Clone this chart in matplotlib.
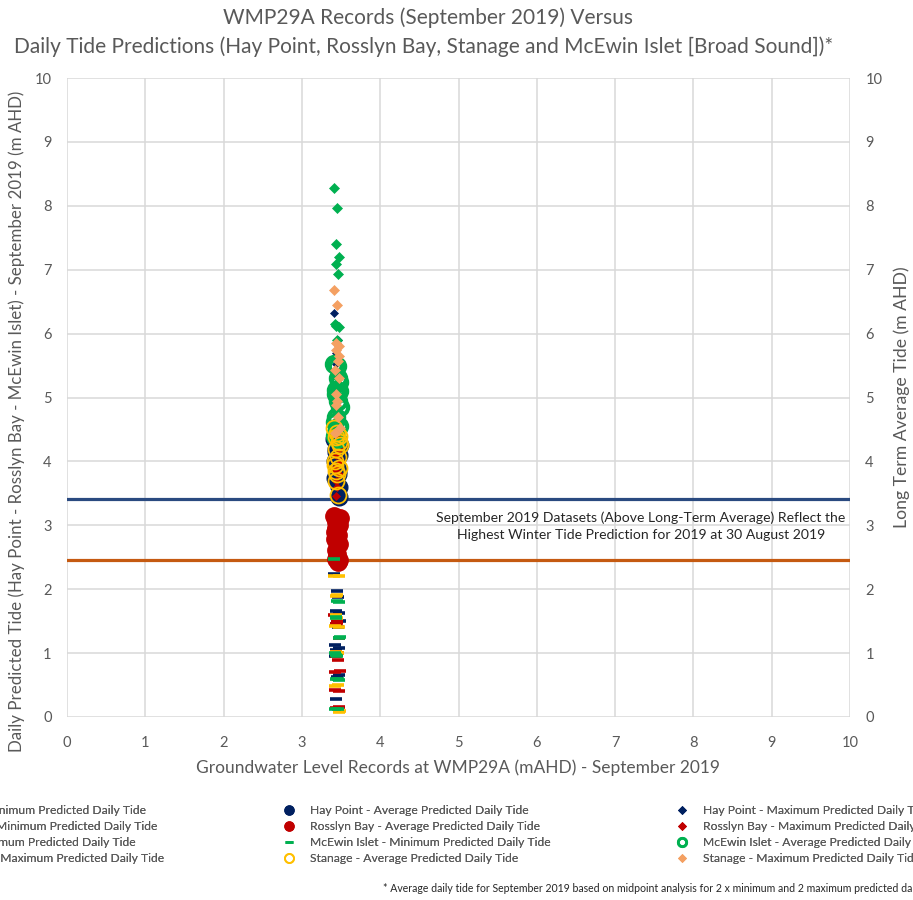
import matplotlib
matplotlib.use("Agg")
import matplotlib.pyplot as plt
from matplotlib.lines import Line2D

plt.rcParams['font.family'] = ['Lato', 'DejaVu Sans']

# Groundwater level readings at WMP29A (mAHD), September 2019
groundwater = [3.41, 3.45, 3.44, 3.47, 3.43, 3.46, 3.42, 3.48,
               3.44, 3.45, 3.43, 3.46, 3.49, 3.42, 3.47]

# Daily predicted tides (m AHD)
hay_min = [2.24, 1.97, 1.66, 1.62, 1.45, 1.41, 1.13, 1.08, 1.05, 0.63, 0.28, 1.88, 1.50, 0.95, 0.65]
hay_avg = [4.35, 4.28, 4.20, 4.10, 3.95, 3.80, 3.74, 3.45, 4.40, 3.90, 4.15, 3.85, 4.25, 4.00, 3.60]
hay_max = [6.33, 6.13, 5.52, 5.30, 5.12, 4.95, 4.80, 4.62, 4.50, 4.40, 5.70, 5.90, 4.70, 5.00, 5.40]
ross_min = [1.60, 1.47, 1.45, 1.24, 1.02, 0.89, 0.70, 0.41, 0.14, 1.50, 0.95, 1.00, 0.72, 0.42, 0.15]
ross_avg = [3.15, 3.10, 3.05, 3.00, 2.95, 2.85, 2.78, 2.70, 2.62, 2.55, 2.48, 2.42, 3.12, 2.90, 2.45]
ross_max = [4.55, 4.40, 4.25, 4.20, 4.10, 3.95, 3.86, 3.80, 3.70, 3.60, 3.46, 4.30, 4.00, 3.90, 4.45]
stan_min = [2.20, 1.91, 1.60, 1.41, 1.02, 1.00, 0.49, 0.08, 1.90, 1.55, 0.98, 0.50, 0.10, 1.43, 2.21]
mcew_min = [2.48, 1.82, 1.56, 1.24, 0.97, 0.59, 0.12, 1.80, 1.55, 0.95, 0.60, 0.13, 1.25, 1.00, 0.58]
mcew_avg = [5.52, 5.50, 5.12, 5.10, 5.05, 4.95, 4.62, 4.55, 4.45, 4.35, 4.70, 5.30, 4.85, 4.40, 5.25]
mcew_max = [8.28, 7.97, 7.40, 7.20, 7.09, 6.93, 6.15, 6.10, 6.12, 5.90, 5.60, 5.30, 5.00, 4.80, 4.60]
stan_avg = [4.52, 4.45, 4.38, 4.30, 4.20, 4.07, 3.95, 3.89, 3.85, 3.80, 3.70, 3.47, 4.25, 4.00, 4.40]
stan_max = [6.68, 6.45, 5.85, 5.80, 5.75, 5.57, 5.43, 5.30, 5.05, 4.95, 4.88, 4.70, 4.52, 4.45, 5.65]

# Long-term average tide levels (m AHD)
long_term_high = 3.41
long_term_low = 2.46

NAVY = '#002060'
RED = '#C00000'
GREEN = '#00B050'
YELLOW = '#FFC000'
ORANGE = '#F4A062'
GREY = '#595959'
GRID = '#D9D9D9'

# (label, values, plot style, legend marker size)
series = [
    ("Hay Point - Minimum Predicted Daily Tide", hay_min,
     dict(marker='_', ms=8, mew=2.6, color=NAVY), 6),
    ("Hay Point - Average Predicted Daily Tide", hay_avg,
     dict(marker='o', ms=12, mfc=NAVY, mec=NAVY, mew=1), 6.5),
    ("Hay Point - Maximum Predicted Daily Tide", hay_max,
     dict(marker='D', ms=4.5, mfc=NAVY, mec=NAVY, mew=0.5), 4),
    ("Rosslyn Bay - Minimum Predicted Daily Tide", ross_min,
     dict(marker='_', ms=8, mew=2.6, color=RED), 6),
    ("Rosslyn Bay - Average Predicted Daily Tide", ross_avg,
     dict(marker='o', ms=12.5, mfc=RED, mec=RED, mew=1), 6.5),
    ("Rosslyn Bay - Maximum Predicted Daily Tide", ross_max,
     dict(marker='D', ms=4.5, mfc=RED, mec=RED, mew=0.5), 4),
    ("Stanage - Minimum Predicted Daily Tide", stan_min,
     dict(marker='_', ms=8, mew=2.6, color=YELLOW), 6),
    ("McEwin Islet - Minimum Predicted Daily Tide", mcew_min,
     dict(marker='_', ms=8, mew=2.6, color=GREEN), 6),
    ("McEwin Islet - Average Predicted Daily Tide", mcew_avg,
     dict(marker='o', ms=11, mfc='none', mec=GREEN, mew=3), 6),
    ("McEwin Islet - Maximum Predicted Daily Tide", mcew_max,
     dict(marker='D', ms=5.5, mfc=GREEN, mec=GREEN, mew=0.5), 4),
    ("Stanage - Average Predicted Daily Tide", stan_avg,
     dict(marker='o', ms=11.5, mfc='none', mec=YELLOW, mew=1.3), 6.5),
    ("Stanage - Maximum Predicted Daily Tide", stan_max,
     dict(marker='D', ms=5.5, mfc=ORANGE, mec=ORANGE, mew=0.5), 4.5),
]

W, H = 913, 900
fig = plt.figure(figsize=(W / 100, H / 100), dpi=100)
ax = fig.add_axes([67 / W, 1 - 717 / H, (850 - 67) / W, (717 - 78) / H])

ax.set_xlim(0, 10)
ax.set_ylim(0, 10)
ax.set_xticks(range(0, 11))
ax.set_yticks(range(0, 11))
ax.grid(True, color=GRID, lw=1.1)
ax.set_axisbelow(True)
for s in ax.spines.values():
    s.set_visible(False)
ax.tick_params(length=0, labelsize=10.5, colors=GREY, pad=11)
ax.tick_params(axis='x', pad=14)

ax.axhline(long_term_high, color='#2A4A80', lw=2.3, zorder=2)
ax.axhline(long_term_low, color='#C55A11', lw=2.3, zorder=2)

legend_handles = []
for label, ys, style, leg_ms in series:
    ax.plot(groundwater, ys, linestyle='none', zorder=3, **style)
    leg_style = dict(style)
    leg_style['ms'] = leg_ms
    if leg_style['marker'] == '_':
        leg_style['mew'] = 2.0
    if leg_style['marker'] == 'o' and leg_style.get('mfc') == 'none':
        leg_style['mew'] = min(leg_style['mew'], 2.0)
    legend_handles.append(Line2D([], [], linestyle='none', label=label, **leg_style))

ax2 = ax.twinx()
ax2.set_ylim(0, 10)
ax2.set_yticks(range(0, 11))
for s in ax2.spines.values():
    s.set_visible(False)
ax2.tick_params(length=0, labelsize=10.5, colors=GREY, pad=11)

ax.text(7.33, 2.99,
        "September 2019 Datasets (Above Long-Term Average) Reflect the\n"
        "Highest Winter Tide Prediction for 2019 at 30 August 2019",
        ha='center', va='center', fontsize=10.1, color='#262626',
        linespacing=1.5, zorder=4)

fig.text(428 / W, 1 - 18 / H, "WMP29A Records (September 2019) Versus",
         ha='center', va='center', fontsize=15, color=GREY)
fig.text(424 / W, 1 - 47 / H,
         "Daily Tide Predictions (Hay Point, Rosslyn Bay, Stanage and McEwin Islet [Broad Sound])*",
         ha='center', va='center', fontsize=15, color=GREY)

fig.text(458 / W, 1 - 768 / H,
         "Groundwater Level Records at WMP29A (mAHD) - September 2019",
         ha='center', va='center', fontsize=12.5, color=GREY)
fig.text(17 / W, 1 - 421 / H,
         "Daily Predicted Tide (Hay Point - Rosslyn Bay - McEwin Islet) - September 2019 (m AHD)",
         ha='center', va='center', rotation=90, fontsize=12.2, color=GREY)
fig.text(902 / W, 1 - 397 / H, "Long Term Average Tide (m AHD)",
         ha='center', va='center', rotation=90, fontsize=12.7, color=GREY)

# Legend laid out in three columns, filled row by row
col_x = [-99, 290, 683]
for c in range(3):
    hs = legend_handles[c::3]
    leg = fig.legend(handles=hs, labels=[h.get_label() for h in hs],
                     loc='upper left',
                     bbox_to_anchor=((col_x[c] - 7) / W, 1 - 805 / H),
                     frameon=False, fontsize=8.7, labelcolor=GREY,
                     handlelength=1.0, handletextpad=1.2,
                     labelspacing=0.42, borderpad=0, borderaxespad=0)
    fig.add_artist(leg)

fig.text(383 / W, 1 - 889 / H,
         "* Average daily tide for September 2019 based on midpoint analysis for 2 x minimum and 2 maximum predicted daily tides",
         ha='left', va='center', fontsize=7.6, color='#262626')

fig.savefig("out.png", dpi=100)
